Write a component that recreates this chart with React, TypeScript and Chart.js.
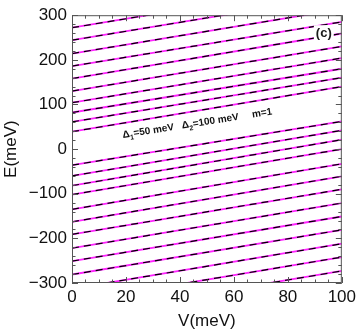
import React, { useEffect, useRef } from 'react';
import { Chart, registerables } from 'chart.js';

Chart.register(...registerables);

// ---- data ----
const xTickValues = [0, 20, 40, 60, 80, 100];
const yTickValues = [-300, -200, -100, 0, 100, 200, 300];
const vStart = 0;
const vEnd = 100;
// E (meV) of each level line read at V = 0 and at V = 100
const levelAtVStart = [272, 244, 214, 186, 158, 130, 104, 82, 61, 39, -36, -60, -82, -102, -135, -163, -191, -222, -251, -281, -313, -343, -374];
const levelAtVEnd = [372, 344, 314, 285, 259, 230, 204, 180, 160, 140, 62, 42, 21, 0, -33, -61, -90, -121, -151, -181, -212, -242, -273];
const xTitle = 'V(meV)';
const yTitle = 'E(meV)';
const panelLabel = '(c)';
const annotationParts = [
  { sym: 'Δ', sub: '1', rest: '=50 meV', offset: 0 },
  { sym: 'Δ', sub: '2', rest: '=100 meV', offset: 60 },
  { sym: '', sub: '', rest: 'm=1', offset: 131 },
];

const FONT = '"Liberation Sans", Arial, Helvetica, sans-serif';

const decorPlugin = {
  id: 'decor',
  afterDatasetsDraw(chart: any) {
    const { ctx, chartArea, scales } = chart;
    const { left, right, top, bottom } = chartArea;
    const xs = scales.x;
    const ys = scales.y;
    ctx.save();

    // annotation along the gap
    ctx.save();
    ctx.translate(left + 51, 138);
    ctx.rotate((-9 * Math.PI) / 180);
    ctx.fillStyle = '#111';
    ctx.textBaseline = 'alphabetic';
    for (const p of annotationParts) {
      let cx = p.offset;
      if (p.sym) {
        ctx.font = `bold 10px ${FONT}`;
        ctx.fillText(p.sym, cx, 0);
        cx += ctx.measureText(p.sym).width;
        ctx.font = `bold 7px ${FONT}`;
        ctx.fillText(p.sub, cx, 3);
        cx += ctx.measureText(p.sub).width;
      }
      ctx.font = `bold 10px ${FONT}`;
      ctx.fillText(p.rest, cx, 0);
    }
    ctx.restore();

    // panel label with white backing
    ctx.font = `bold 13px ${FONT}`;
    const lw = ctx.measureText(panelLabel).width;
    const lx = right - 18;
    const ly = top + 18;
    ctx.fillStyle = '#fff';
    ctx.fillRect(lx - lw / 2 - 2, ly - 8, lw + 4, 16);
    ctx.fillStyle = '#1a1a1a';
    ctx.textAlign = 'center';
    ctx.textBaseline = 'middle';
    ctx.fillText(panelLabel, lx, ly);

    // frame
    ctx.strokeStyle = '#555';
    ctx.lineWidth = 1;
    ctx.strokeRect(left + 0.5, top + 0.5, right - left - 1, bottom - top - 1);

    // ticks (inward, all sides)
    ctx.beginPath();
    for (let v = vStart; v <= vEnd + 1e-6; v += 5) {
      const px = Math.round(xs.getPixelForValue(v)) + 0.5;
      const len = v % 20 === 0 ? 6 : 3.5;
      ctx.moveTo(px, bottom);
      ctx.lineTo(px, bottom - len);
      ctx.moveTo(px, top);
      ctx.lineTo(px, top + len);
    }
    for (let e = -300; e <= 300; e += 20) {
      const py = Math.round(ys.getPixelForValue(e)) + 0.5;
      const len = e % 100 === 0 ? 6 : 3.5;
      ctx.moveTo(left, py);
      ctx.lineTo(left + len, py);
      ctx.moveTo(right, py);
      ctx.lineTo(right - len, py);
    }
    ctx.stroke();

    // axis titles
    ctx.fillStyle = '#111';
    ctx.font = `17px ${FONT}`;
    ctx.textAlign = 'center';
    ctx.textBaseline = 'middle';
    ctx.fillText(xTitle, (left + right) / 2, 321);
    ctx.save();
    ctx.translate(11, (top + bottom) / 2);
    ctx.rotate(-Math.PI / 2);
    ctx.fillText(yTitle, 0, 0);
    ctx.restore();

    ctx.restore();
  },
};

export default function App() {
  const ref = useRef<HTMLCanvasElement | null>(null);

  useEffect(() => {
    document.body.style.margin = '0';
    const canvas = ref.current;
    if (!canvas) return;

    const datasets: any[] = [];
    levelAtVStart.forEach((e0, i) => {
      const pts = [
        { x: vStart, y: e0 },
        { x: vEnd, y: levelAtVEnd[i] },
      ];
      datasets.push({
        data: pts,
        borderColor: '#ff22ff',
        borderWidth: 1.8,
        pointRadius: 0,
        order: 2,
      });
      datasets.push({
        data: pts,
        borderColor: '#000',
        borderWidth: 1.2,
        borderDash: [7, 5],
        pointRadius: 0,
        order: 1,
      });
    });

    const chart = new Chart(canvas, {
      type: 'line',
      data: { datasets },
      options: {
        animation: false,
        responsive: false,
        events: [],
        layout: { padding: { left: 0, right: 16, top: 11, bottom: 0 } },
        plugins: { legend: { display: false }, tooltip: { enabled: false } },
        scales: {
          x: {
            type: 'linear',
            min: 0,
            max: 100,
            grid: { display: false, drawTicks: false },
            border: { display: false },
            afterBuildTicks: (s: any) => {
              s.ticks = xTickValues.map((v) => ({ value: v }));
            },
            afterFit: (s: any) => {
              s.height = 52;
            },
            ticks: {
              padding: 4,
              maxRotation: 0,
              color: '#111',
              font: { family: FONT, size: 17 },
              callback: (v: any) => String(v),
            },
          },
          y: {
            type: 'linear',
            min: -300,
            max: 300,
            grid: { display: false, drawTicks: false },
            border: { display: false },
            afterBuildTicks: (s: any) => {
              s.ticks = yTickValues.map((v) => ({ value: v }));
            },
            afterFit: (s: any) => {
              s.width = 72;
            },
            ticks: {
              padding: 5,
              color: '#111',
              font: { family: FONT, size: 17 },
              callback: (v: any) => (Number(v) < 0 ? '\u2212' + Math.abs(Number(v)) : String(v)),
            },
          },
        },
      },
      plugins: [decorPlugin],
    });

    return () => chart.destroy();
  }, []);

  return (
    <div style={{ width: 360, height: 335 }}>
      <canvas ref={ref} width={360} height={335} style={{ display: 'block' }} />
    </div>
  );
}
